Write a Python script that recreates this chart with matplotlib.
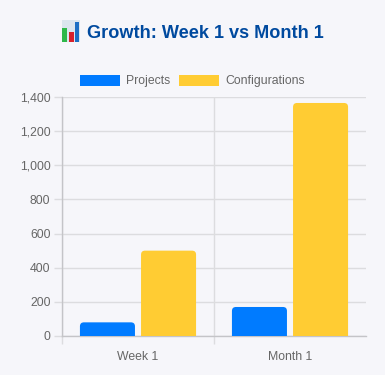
import matplotlib
matplotlib.use('Agg')
import matplotlib.pyplot as plt
from matplotlib.patches import PathPatch, Rectangle
from matplotlib.path import Path

categories = ['Week 1', 'Month 1']
projects = [80, 170]
configurations = [500, 1365]
y_ticks = [0, 200, 400, 600, 800, 1000, 1200, 1400]
icon_bars = [(0.02, 0.64, '#2fb84a'), (0.39, 0.45, '#d8212b'), (0.72, 0.91, '#1c6fc4')]

BG = '#f6f6fa'
W, H = 385, 375

plt.rcParams['font.family'] = ['Liberation Sans', 'DejaVu Sans']

fig = plt.figure(figsize=(W / 100, H / 100), dpi=100, facecolor=BG)
ax = fig.add_axes([62 / W, 1 - 336 / H, 304 / W, 239 / H], facecolor=BG)
ax.set_xlim(-0.5, 1.5)
ax.set_ylim(0, 1400)


def rounded_bar(x0, x1, top, color):
    # top corners only, radius is about 4 px
    rx = 4 / 152
    ry = 4 / (239 / 1400)
    verts = [(x0, 0), (x0, top - ry), (x0, top), (x0 + rx, top),
             (x1 - rx, top), (x1, top), (x1, top - ry), (x1, 0), (x0, 0)]
    codes = [Path.MOVETO, Path.LINETO, Path.CURVE3, Path.CURVE3,
             Path.LINETO, Path.CURVE3, Path.CURVE3, Path.LINETO, Path.CLOSEPOLY]
    ax.add_patch(PathPatch(Path(verts, codes), facecolor=color, edgecolor='none', zorder=3))


bar_w = 0.362
gap = 0.04
for i in range(len(categories)):
    rounded_bar(i - gap / 2 - bar_w, i - gap / 2, projects[i], '#007bff')
    rounded_bar(i + gap / 2, i + gap / 2 + bar_w, configurations[i], '#ffcc33')

ax.set_yticks(y_ticks)
ax.set_yticklabels([f'{v:,}' for v in y_ticks])
ax.set_xticks([0, 1])
ax.set_xticklabels(categories)
ax.set_xticks([-0.5, 0.5], minor=True)
ax.tick_params(axis='x', which='major', length=0, pad=10.5, labelsize=8.8, labelcolor='#666666')
ax.tick_params(axis='x', which='minor', length=5.8, width=1, color='#dcdcdf')
ax.tick_params(axis='y', length=5.8, width=1, color='#dcdcdf', pad=2.5, labelsize=8.8, labelcolor='#666666')
ax.grid(axis='y', color='#dcdcdf', lw=1, zorder=1)
ax.grid(axis='x', which='minor', color='#dcdcdf', lw=1, zorder=1)
ax.set_axisbelow(True)
for s in ['top', 'right']:
    ax.spines[s].set_visible(False)
for s in ['left', 'bottom']:
    ax.spines[s].set_color('#c4c4c8')
    ax.spines[s].set_linewidth(1)

handles = [Rectangle((0, 0), 1, 1, facecolor='#007bff', edgecolor='none'),
           Rectangle((0, 0), 1, 1, facecolor='#ffcc33', edgecolor='none')]
fig.legend(handles, ['Projects', 'Configurations'], loc='center', bbox_to_anchor=(192.5 / W, 1 - 81 / H),
           ncols=2, frameon=False, fontsize=8.8, labelcolor='#666666', handlelength=3.27, handleheight=1,
           handletextpad=0.5, columnspacing=0.75, borderpad=0, borderaxespad=0)

fig.text(87 / W, 1 - 33 / H, 'Growth: Week 1 vs Month 1', fontsize=13.1, fontweight='bold',
         color='#004a9f', ha='left', va='center')

# chart emoji next to the title, no emoji font here
icon = fig.add_axes([62 / W, 1 - 42 / H, 18 / W, 22 / H], facecolor='#dbe6ee')
icon.set_xlim(0, 1)
icon.set_ylim(0, 1)
icon.axis('off')
icon.add_patch(Rectangle((0, 0), 1, 1, color='#dbe6ee'))
for x, h, c in icon_bars:
    icon.bar(x, h, width=0.25, align='edge', color=c)

fig.savefig('out.png', dpi=100, facecolor=BG)
